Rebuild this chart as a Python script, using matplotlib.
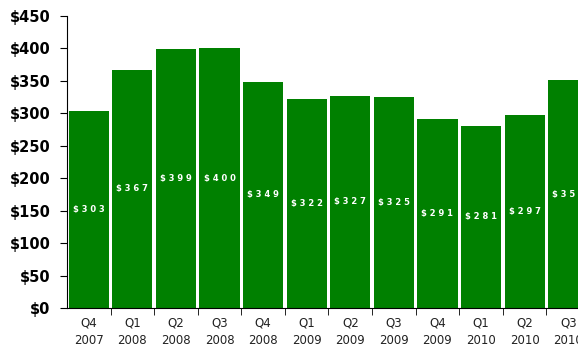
import matplotlib.pyplot as plt
import numpy as np

quarters = ["Q4\n2007", "Q1\n2008", "Q2\n2008", "Q3\n2008", "Q4\n2008", "Q1\n2009",
            "Q2\n2009", "Q3\n2009", "Q4\n2009", "Q1\n2010", "Q2\n2010", "Q3\n2010"]
values = [303, 367, 399, 400, 349, 322, 327, 325, 291, 281, 297, 351]
yticks = [0, 50, 100, 150, 200, 250, 300, 350, 400, 450]

fig = plt.figure(figsize=(5.78, 3.56), dpi=100)
ax = fig.add_axes([67 / 578, 48 / 356, 523 / 578, 292 / 356])

x = np.arange(len(values))
ax.bar(x, values, width=0.92, color="#008000", edgecolor="none")

for xi, v in zip(x, values):
    ax.text(xi, v / 2, " ".join("$" + str(v)), color="white", fontsize=6,
            fontweight="bold", ha="center", va="center")

ax.set_xlim(-0.5, len(values) - 0.5)
ax.set_ylim(0, 450)
ax.set_yticks(yticks)
ax.set_yticklabels(["$" + str(t) for t in yticks], fontsize=10.5, fontweight="bold")
ax.set_xticks(x)
ax.set_xticklabels(quarters, fontsize=8.5, color="#222222", linespacing=1.5)
ax.set_xticks(x[:-1] + 0.5, minor=True)
ax.tick_params(axis="x", which="major", length=0, pad=6)
ax.tick_params(axis="x", which="minor", length=5, direction="out")
ax.tick_params(axis="y", length=5, direction="out", pad=7)

ax.spines["top"].set_visible(False)
ax.spines["right"].set_visible(False)

fig.savefig("out.png", dpi=100)
